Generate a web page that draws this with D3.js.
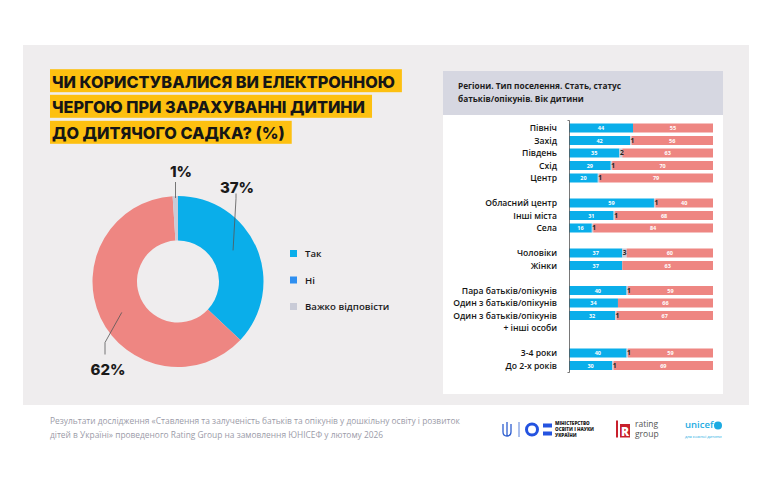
<!DOCTYPE html>
<html>
<head>
<meta charset="utf-8">
<script src="https://cdn.jsdelivr.net/npm/d3@7"></script>
<style>
  body { margin: 0; background: #fff; }
  svg text { font-family: "Open Sans", sans-serif; }
</style>
</head>
<body>
<div id="chart"></div>
<script>
// ---- data ----
const donutLabels = ["Так", "Ні", "Важко відповісти"];
const donutValues = [37, 62, 1];

const titleLines = ["ЧИ КОРИСТУВАЛИСЯ ВИ ЕЛЕКТРОННОЮ", "ЧЕРГОЮ ПРИ ЗАРАХУВАННІ ДИТИНИ", "ДО ДИТЯЧОГО САДКА? (%)"];
const panelTitle = ["Регіони. Тип поселення. Стать, статус", "батьків/опікунів. Вік дитини"];

const groups = [
  ["Північ", "Захід", "Південь", "Схід", "Центр"],
  ["Обласний центр", "Інші міста", "Села"],
  ["Чоловіки", "Жінки"],
  ["Пара батьків/опікунів", "Один з батьків/опікунів", "Один з батьків/опікунів|+ інші особи"],
  ["3-4 роки", "До 2-х років"]
];
const yesValues  = [44, 42, 35, 29, 20, 59, 31, 16, 37, 37, 40, 34, 32, 40, 30];
const hardValues = [0, 1, 2, 1, 1, 1, 1, 1, 3, 0, 1, 0, 1, 1, 1];
const noValues   = [55, 56, 63, 70, 79, 40, 68, 84, 60, 63, 59, 66, 67, 59, 69];

const footerLines = [
  "Результати дослідження «Ставлення та залученість батьків та опікунів у дошкільну освіту і розвиток",
  "дітей в Україні» проведеного Rating Group на замовлення ЮНІСЕФ у лютому 2026"
];

// ---- colours ----
const cYes = "#0aaeea", cNo = "#ee8682", cHard = "#c9cbd7", cNiLegend = "#2f8ff0";

const W = 770, H = 489;
const svg = d3.select("#chart").append("svg")
  .attr("width", W).attr("height", H);

// background panel
svg.append("rect").attr("x", 23).attr("y", 45).attr("width", 726).attr("height", 360)
  .attr("fill", "#efedee");

// ---- title with yellow highlight ----
const title = svg.append("g");
const baselines = [87.7, 113.3, 139.3];
const tTexts = titleLines.map((t, i) => title.append("text")
  .attr("x", 52).attr("y", baselines[i])
  .style("font-family", "Inter, 'Open Sans', sans-serif")
  .style("font-weight", 800)
  .style("font-size", "17px")
  .attr("fill", "#161616")
  .text(t));
// fit first line to reference width
const w0 = tTexts[0].node().getComputedTextLength();
const fs = 17 * 343 / w0;
tTexts.forEach(t => t.style("font-size", fs + "px"));
tTexts.forEach((t, i) => {
  const w = t.node().getComputedTextLength();
  title.insert("rect", "text")
    .attr("x", 50).attr("y", baselines[i] - 18.5)
    .attr("width", w + 9).attr("height", 23)
    .attr("fill", "#fdc010");
});

// ---- donut ----
const cx = 178, cy = 281.5, rOuter = 85.5, rInner = 41;
const pie = d3.pie().sort(null).value(d => d)(donutValues);
const arc = d3.arc().innerRadius(rInner).outerRadius(rOuter);
const donutColors = [cYes, cNo, cHard];
const dg = svg.append("g").attr("transform", `translate(${cx},${cy})`);
dg.selectAll("path").data(pie).enter().append("path")
  .attr("d", arc)
  .attr("fill", (d, i) => donutColors[i]);

// leader lines + labels
const lineGen = d3.line();
const mid = arc.centroid(pie[0]);
const midNo = arc.centroid(pie[1]);
const midHard = d3.arc().innerRadius(rOuter - 6).outerRadius(rOuter - 6).centroid(pie[2]);
const leaders = [
  { pts: [[cx + mid[0] - 3, cy + mid[1] - 6], [cx + 58, cy - 83], [cx + 58, cy - 88]], lx: cx + 59, ly: cy - 89, anchor: "middle" },
  { pts: [[cx + midNo[0] + 1, cy + midNo[1] + 4], [cx - 73, cy + 61], [cx - 73, cy + 73]], lx: cx - 70, ly: cy + 93, anchor: "middle" },
  { pts: [[cx + midHard[0], cy - rOuter + 2], [cx + midHard[0], cy - rOuter - 14]], lx: cx + 3, ly: cy - 105, anchor: "middle" }
];
const labelOrder = [0, 1, 2];
leaders.forEach((l, i) => {
  svg.append("path").attr("d", lineGen(l.pts))
    .attr("fill", "none").attr("stroke", "#555").attr("stroke-width", 0.8);
  svg.append("text").attr("x", l.lx).attr("y", l.ly)
    .attr("text-anchor", l.anchor)
    .style("font-family", "Inter, 'Open Sans', sans-serif")
    .style("font-weight", 800).style("font-size", "15px")
    .attr("fill", "#1a1a1a")
    .text(donutValues[labelOrder[i]] + "%");
});

// legend
const legendColors = [cYes, cNiLegend, cHard];
const lg = svg.append("g");
donutLabels.forEach((t, i) => {
  const y = 254 + i * 26.5;
  lg.append("rect").attr("x", 290).attr("y", y - 4).attr("width", 7).attr("height", 7)
    .attr("fill", legendColors[i]);
  lg.append("text").attr("x", 305).attr("y", y + 3)
    .style("font-size", "9.6px").style("font-weight", 600)
    .attr("fill", "#1a1a1a").text(t);
});

// ---- right card ----
svg.append("rect").attr("x", 443).attr("y", 71).attr("width", 280).attr("height", 323)
  .attr("fill", "#ffffff");
svg.append("rect").attr("x", 443).attr("y", 71).attr("width", 280).attr("height", 44)
  .attr("fill", "#d6d7e1");
panelTitle.forEach((t, i) => {
  svg.append("text").attr("x", 458).attr("y", 89 + i * 13)
    .style("font-size", "8.3px").style("font-weight", 700)
    .attr("fill", "#1d1d1d").text(t);
});

// build slots: each row, extra slot for 2-line label, one gap between groups
const rows = [];
const slots = [];
groups.forEach((g, gi) => {
  g.forEach(name => {
    rows.push({ name: name, slot: "s" + slots.length });
    slots.push("s" + slots.length);
    if (name.includes("|")) slots.push("s" + slots.length);
  });
  if (gi < groups.length - 1) slots.push("s" + slots.length);
});
rows.forEach((r, i) => {
  r.yes = yesValues[i]; r.hard = hardValues[i]; r.no = noValues[i];
});

const x = d3.scaleLinear().domain([0, 1]).range([569, 713]);
const y = d3.scaleBand().domain(slots).range([121.75, 371.75]).paddingInner(0.28).paddingOuter(0.14);

const keys = ["yes", "hard", "no"];
const series = d3.stack().keys(keys).offset(d3.stackOffsetExpand)(rows);
const barColors = { yes: cYes, hard: cHard, no: cNo };

const bars = svg.append("g");
series.forEach(s => {
  bars.selectAll(null).data(s).enter().append("rect")
    .attr("x", d => x(d[0]))
    .attr("y", d => y(d.data.slot))
    .attr("width", d => Math.max(0, x(d[1]) - x(d[0])))
    .attr("height", y.bandwidth())
    .attr("fill", barColors[s.key]);
});

// value labels
series.forEach(s => {
  bars.selectAll(null).data(s.filter(d => d.data[s.key] > 0)).enter().append("text")
    .attr("x", d => s.key === "hard" ? x(d[0]) + 0.5 : (x(d[0]) + x(d[1])) / 2)
    .attr("y", d => y(d.data.slot) + y.bandwidth() / 2 + 2)
    .attr("text-anchor", s.key === "hard" ? "start" : "middle")
    .style("font-size", s.key === "hard" ? "6.5px" : "5.5px")
    .style("font-weight", 700)
    .attr("fill", s.key === "hard" ? "#222" : "#fff")
    .text(d => d.data[s.key]);
});

// axis line with small outer ticks
svg.append("g")
  .attr("transform", "translate(569,0)")
  .call(d3.axisLeft(d3.scaleLinear().domain([0, 1]).range([120, 372])).ticks(0).tickSizeOuter(1.5))
  .call(g => g.select(".domain").attr("stroke", "#555").attr("stroke-width", 0.8));

// row labels
rows.forEach(r => {
  const parts = r.name.split("|");
  parts.forEach((p, j) => {
    svg.append("text")
      .attr("x", 557)
      .attr("y", y(r.slot) + y.bandwidth() / 2 + 3 + j * 12.5)
      .attr("text-anchor", "end")
      .style("font-size", "8.6px").style("font-weight", 600)
      .attr("fill", "#141414")
      .text(p);
  });
});

// ---- footer ----
footerLines.forEach((t, i) => {
  svg.append("text").attr("x", 50).attr("y", 424 + i * 13.5)
    .style("font-size", "8.4px").style("font-weight", 500)
    .attr("fill", "#9b9ba8").text(t);
});

// logos (simplified)
const logo = svg.append("g");
// trident
logo.append("path")
  .attr("d", "M507,422 L507,436 M503,424 L503,432 Q503,436 507,436 Q511,436 511,432 L511,424")
  .attr("fill", "none").attr("stroke", "#2f5fd0").attr("stroke-width", 1.3);
logo.append("line").attr("x1", 519).attr("x2", 519).attr("y1", 422).attr("y2", 437)
  .attr("stroke", "#2f5fd0").attr("stroke-width", 0.8);
logo.append("circle").attr("cx", 532).attr("cy", 429.5).attr("r", 5.5)
  .attr("fill", "none").attr("stroke", "#2453e0").attr("stroke-width", 3);
logo.append("rect").attr("x", 543).attr("y", 423.5).attr("width", 9).attr("height", 4).attr("fill", "#2453e0");
logo.append("rect").attr("x", 543).attr("y", 431.5).attr("width", 9).attr("height", 4).attr("fill", "#2453e0");
["МІНІСТЕРСТВО", "ОСВІТИ І НАУКИ", "УКРАЇНИ"].forEach((t, i) => {
  logo.append("text").attr("x", 555).attr("y", 425 + i * 6)
    .style("font-size", "4.6px").style("font-weight", 800)
    .attr("fill", "#222").text(t);
});
// rating group
logo.append("rect").attr("x", 616).attr("y", 420.5).attr("width", 2).attr("height", 17).attr("fill", "#c8202c");
logo.append("rect").attr("x", 620).attr("y", 424).attr("width", 10).attr("height", 13.5).attr("fill", "#c8202c");
logo.append("text").attr("x", 625).attr("y", 435.5).attr("text-anchor", "middle")
  .style("font-size", "12px").style("font-weight", 800).attr("fill", "#fff").text("R");
logo.append("text").attr("x", 635).attr("y", 427).style("font-size", "8.5px").attr("fill", "#555").text("rating");
logo.append("text").attr("x", 635).attr("y", 437).style("font-size", "8.5px").attr("fill", "#555").text("group");
// unicef
logo.append("text").attr("x", 685).attr("y", 428).style("font-size", "9.5px").style("font-weight", 600)
  .attr("fill", "#1cabe2").text("unicef");
logo.append("circle").attr("cx", 718).attr("cy", 425.5).attr("r", 4).attr("fill", "#1cabe2");
logo.append("text").attr("x", 685).attr("y", 438).style("font-size", "4px").attr("fill", "#1cabe2").text("для кожної дитини");
</script>
</body>
</html>
